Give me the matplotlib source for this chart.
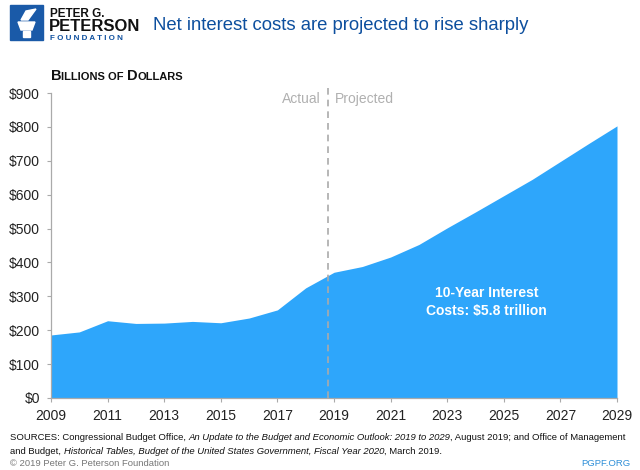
import matplotlib.pyplot as plt
from matplotlib.patches import Rectangle, Polygon

# Data (billions of dollars)
years = list(range(2009, 2030))
interest = [186, 195, 228, 220, 221, 226, 222, 236, 260, 325, 371,
            388, 416, 453, 502, 549, 597, 645, 698, 751, 803]
yticks = [0, 100, 200, 300, 400, 500, 600, 700, 800, 900]
xticks = list(range(2009, 2030, 2))

blue_fill = "#2ea6fb"
dark_blue = "#0d4f9e"
plt.rcParams["font.family"] = ["Liberation Sans", "DejaVu Sans"]

W, H = 640, 470
fig = plt.figure(figsize=(W / 100, H / 100), dpi=100)
ax = fig.add_axes([51 / W, 1 - 398 / H, 566 / W, 305 / H])
renderer = fig.canvas.get_renderer()


def fx(px):
    return px / W


def fy(py):
    return 1 - py / H


def run_text(x, y, parts, **kw):
    # draw text pieces one after another along a line
    for s, opts in parts:
        t = fig.text(x, y, s, va="baseline", ha="left", **kw, **opts)
        x += t.get_window_extent(renderer).width / W
    return x


ax.fill_between(years, interest, 0, color=blue_fill, lw=0)
ax.set_xlim(2009, 2029)
ax.set_ylim(0, 900)
ax.set_yticks(yticks)
ax.set_yticklabels([f"${v}" for v in yticks])
ax.set_xticks(xticks)
ax.tick_params(axis="both", labelsize=10, colors="#aaaaaa", labelcolor="#222222",
               length=3, width=0.8)
ax.tick_params(axis="y", pad=5)
ax.tick_params(axis="x", pad=5)
for side in ["top", "right"]:
    ax.spines[side].set_visible(False)
for side in ["left", "bottom"]:
    ax.spines[side].set_color("#aaaaaa")
    ax.spines[side].set_linewidth(0.9)

# actual / projected divider
split = 2018.79
ax.axvline(split, ymax=1.025, color="#aaaaaa", ls=(0, (4, 3)), lw=1.2, clip_on=False)
ax.text(split - 0.25, 882, "Actual", ha="right", va="center", color="#b0b0b0", fontsize=10)
ax.text(split + 0.25, 882, "Projected", ha="left", va="center", color="#b0b0b0", fontsize=10)

ax.text(2024.4, 283, "10-Year Interest\nCosts: $5.8 trillion", ha="center", va="center",
        color="white", fontsize=10, fontweight="bold", linespacing=1.3)

# small-caps axis label
run_text(fx(51), fy(80), [("B", {"fontsize": 10.5}), ("ILLIONS OF ", {"fontsize": 8}),
                          ("D", {"fontsize": 10.5}), ("OLLARS", {"fontsize": 8})],
         fontweight="bold", color="#111111")

# header: logo + title
tr = fig.transFigure
fig.patches.append(Rectangle((fx(10), fy(40)), 33 / W, 35 / H, transform=tr, color="#1a5aa8"))
fig.patches.append(Polygon([(fx(18), fy(22)), (fx(35), fy(22)), (fx(32), fy(30)), (fx(21), fy(30))],
                           closed=True, transform=tr, color="white"))
fig.patches.append(Rectangle((fx(23), fy(37)), 7 / W, 6 / H, transform=tr, color="white"))
fig.patches.append(Polygon([(fx(21), fy(20)), (fx(26), fy(11)), (fx(36), fy(9)), (fx(28), fy(20))],
                           closed=True, transform=tr, color="white"))
fig.text(fx(50), fy(17), "PETER G.", fontsize=8.5, fontweight="bold", color="#111111",
         va="baseline")
fig.text(fx(49), fy(31), "PETERSON", fontsize=12, fontweight="bold", color="#111111",
         va="baseline")
fig.text(fx(50), fy(40), "F O U N D A T I O N", fontsize=5.8, fontweight="bold",
         color=dark_blue, va="baseline")
fig.text(fx(153), fy(25), "Net interest costs are projected to rise sharply",
         fontsize=13.3, color=dark_blue, va="center")

# footer
fs = 6.8
run_text(fx(10), fy(440), [("SOURCES: Congressional Budget Office, ", {}),
                           ("An Update to the Budget and Economic Outlook: 2019 to 2029", {"style": "italic"}),
                           (", August 2019; and Office of Management", {})],
         fontsize=fs, color="#111111")
run_text(fx(10), fy(454), [("and Budget, ", {}),
                           ("Historical Tables, Budget of the United States Government, Fiscal Year 2020",
                            {"style": "italic"}),
                           (", March 2019.", {})],
         fontsize=fs, color="#111111")
fig.text(fx(10), fy(466), "\u00a9 2019 Peter G. Peterson Foundation", fontsize=fs,
         color="#777777", va="baseline")
fig.text(fx(630), fy(466), "PGPF.ORG", fontsize=fs, color="#2e8fd8", va="baseline", ha="right")

fig.savefig("out.png", dpi=100)
